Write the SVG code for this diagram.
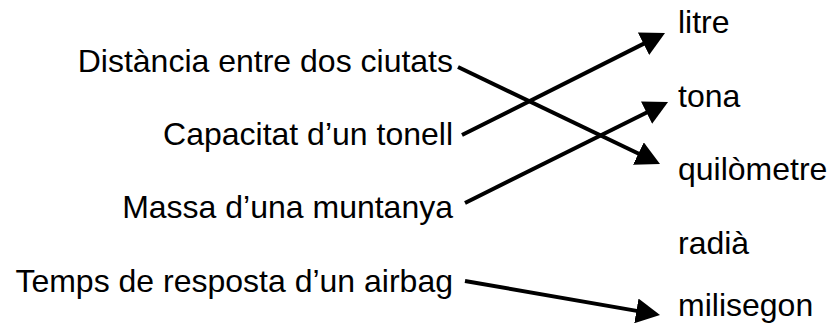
<svg xmlns="http://www.w3.org/2000/svg" width="831" height="336" viewBox="0 0 831 336">
  <style>
    .lbl { font-family: "Liberation Sans", Arial, sans-serif; font-size: 32px; fill: #000; }
    .src { text-anchor: end; }
    .dst { text-anchor: start; }
    .link { stroke: #000; stroke-width: 4; fill: none; marker-end: url(#head); }
  </style>
  <defs>
    <marker id="head" viewBox="0 0 24 25" refX="12" refY="12.5" markerWidth="24" markerHeight="25" markerUnits="userSpaceOnUse" orient="auto">
      <path d="M0,0 L24,12.5 L0,25 Z" fill="#000"/>
    </marker>
  </defs>
  <rect width="831" height="336" fill="#fff"/>

  <!-- quantities (left column) -->
  <g id="q-distancia"><text class="lbl src" x="453" y="72">Distància entre dos ciutats</text></g>
  <g id="q-capacitat"><text class="lbl src" x="453" y="145">Capacitat d’un tonell</text></g>
  <g id="q-massa"><text class="lbl src" x="453" y="218">Massa d’una muntanya</text></g>
  <g id="q-temps"><text class="lbl src" x="453" y="292">Temps de resposta d’un airbag</text></g>

  <!-- units (right column) -->
  <g id="u-litre"><text class="lbl dst" x="678" y="33">litre</text></g>
  <g id="u-tona"><text class="lbl dst" x="678" y="107">tona</text></g>
  <g id="u-quilometre"><text class="lbl dst" x="678" y="180">quilòmetre</text></g>
  <g id="u-radia"><text class="lbl dst" x="678" y="254">radià</text></g>
  <g id="u-milisegon"><text class="lbl dst" x="678" y="316">milisegon</text></g>

  <!-- connectors -->
  <g id="connectors">
    <line class="link" x1="458" y1="67" x2="649.2" y2="158.8"/>
    <line class="link" x1="462" y1="135" x2="654.3" y2="38.4"/>
    <line class="link" x1="465" y1="203" x2="657.3" y2="107.3"/>
    <line class="link" x1="465" y1="281" x2="648.2" y2="312.9"/>
  </g>
</svg>
